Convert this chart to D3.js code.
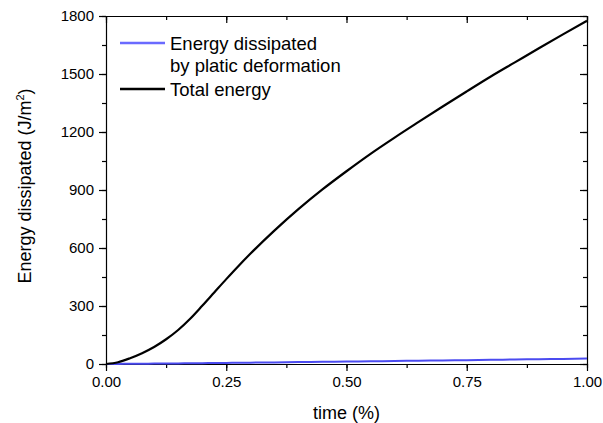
<!DOCTYPE html>
<html>
<head>
<meta charset="utf-8">
<script src="https://cdn.jsdelivr.net/npm/d3@7"></script>
<style>
  body { margin: 0; background: #fff; }
  svg { font-family: "Liberation Sans", Arial, sans-serif; }
  .axis path, .axis line { stroke: #000; stroke-width: 1.2; }
  .axis text { font-size: 15px; fill: #000; }
</style>
</head>
<body>
<svg id="chart" width="603" height="423"></svg>
<script>
const timeValues = [0, 0.025, 0.05, 0.075, 0.1, 0.125, 0.15, 0.175, 0.2, 0.225, 0.25, 0.275, 0.3,
  0.35, 0.4, 0.45, 0.5, 0.55, 0.6, 0.65, 0.7, 0.75, 0.8, 0.85, 0.9, 0.95, 1.0];
const totalEnergy = [0, 9, 30, 56, 88, 128, 176, 234, 301, 370, 439, 506, 570,
  690, 801, 903, 997, 1087, 1171, 1252, 1332, 1410, 1487, 1560, 1633, 1705, 1775];
const plasticEnergy = [0, 0.5, 1, 1.5, 2, 2.6, 3.2, 3.8, 4.4, 5, 5.7, 6.4, 7,
  8.4, 9.8, 11.2, 12.6, 14, 15.5, 17, 18.5, 20, 21.6, 23.2, 24.8, 26.4, 28];
const seriesNames = ['Energy dissipated', 'by platic deformation', 'Total energy'];
const xTicks = [0, 0.25, 0.5, 0.75, 1.0];
const yTicks = [0, 300, 600, 900, 1200, 1500, 1800];

const svg = d3.select('#chart');
const MARGIN = { top: 16, left: 106 };
const width = 481;
const height = 348;
const chart = svg.append('g')
  .attr('transform', `translate(${MARGIN.left}, ${MARGIN.top})`);

const x = d3.scaleLinear().domain([0, 1]).range([0, width]);
const y = d3.scaleLinear().domain([0, 1800]).range([height, 0]);

const xMinor = d3.range(0, 1.0001, 0.125);
const yMinor = d3.range(0, 1800.1, 150);

// minor ticks
chart.append('g').attr('class', 'axis')
  .attr('transform', `translate(0,${height})`)
  .call(d3.axisBottom(x).tickValues(xMinor).tickSize(4).tickFormat(''))
  .call(g => g.select('.domain').remove());
chart.append('g').attr('class', 'axis')
  .call(d3.axisLeft(y).tickValues(yMinor).tickSize(4).tickFormat(''))
  .call(g => g.select('.domain').remove());
chart.append('g').attr('class', 'axis')
  .call(d3.axisTop(x).tickValues(xMinor).tickSize(-4).tickFormat(''))
  .call(g => g.select('.domain').remove());
chart.append('g').attr('class', 'axis')
  .attr('transform', `translate(${width},0)`)
  .call(d3.axisRight(y).tickValues(yMinor).tickSize(-4).tickFormat(''))
  .call(g => g.select('.domain').remove());

// major ticks
chart.append('g').attr('class', 'axis')
  .attr('transform', `translate(0,${height})`)
  .call(d3.axisBottom(x).tickValues(xTicks).tickSize(7).tickSizeOuter(0).tickPadding(5).tickFormat(d3.format('.2f')));
chart.append('g').attr('class', 'axis')
  .call(d3.axisLeft(y).tickValues(yTicks).tickSize(7).tickSizeOuter(0).tickPadding(5).tickFormat(d3.format('d')));
chart.append('g').attr('class', 'axis')
  .call(d3.axisTop(x).tickValues(xTicks).tickSize(-7).tickSizeOuter(0).tickFormat(''));
chart.append('g').attr('class', 'axis')
  .attr('transform', `translate(${width},0)`)
  .call(d3.axisRight(y).tickValues(yTicks).tickSize(-7).tickSizeOuter(0).tickFormat(''));

const totalData = timeValues.map((t, i) => ({ t, v: totalEnergy[i] }));
const plasticData = timeValues.map((t, i) => ({ t, v: plasticEnergy[i] }));

const line = d3.line()
  .x(d => x(d.t))
  .y(d => y(d.v))
  .curve(d3.curveMonotoneX);

chart.append('path')
  .datum(plasticData)
  .attr('fill', 'none')
  .attr('stroke', '#4b4bf0')
  .attr('stroke-width', 2)
  .attr('d', line);

chart.append('path')
  .datum(totalData)
  .attr('fill', 'none')
  .attr('stroke', '#000')
  .attr('stroke-width', 2.2)
  .attr('d', line);

// legend
const legend = svg.append('g').attr('font-size', 18.5);
legend.append('line')
  .attr('x1', 120).attr('x2', 165).attr('y1', 43).attr('y2', 43)
  .attr('stroke', '#6a6aff').attr('stroke-width', 2.5);
legend.append('text').attr('x', 170).attr('y', 50).text(seriesNames[0]);
legend.append('text').attr('x', 170).attr('y', 71.5).text(seriesNames[1]);
legend.append('line')
  .attr('x1', 120).attr('x2', 165).attr('y1', 89).attr('y2', 89)
  .attr('stroke', '#000').attr('stroke-width', 2.5);
legend.append('text').attr('x', 170).attr('y', 96).text(seriesNames[2]);

// axis titles
svg.append('text')
  .attr('x', MARGIN.left + width / 2)
  .attr('y', 419)
  .attr('text-anchor', 'middle')
  .attr('font-size', 18)
  .text('time (%)');

const yTitle = svg.append('text')
  .attr('transform', 'translate(31, 186) rotate(-90)')
  .attr('text-anchor', 'middle')
  .attr('font-size', 18);
yTitle.append('tspan').text('Energy dissipated (J/m');
yTitle.append('tspan').attr('font-size', 11).attr('dy', -7).text('2');
yTitle.append('tspan').attr('dy', 7).text(')');
</script>
</body>
</html>
